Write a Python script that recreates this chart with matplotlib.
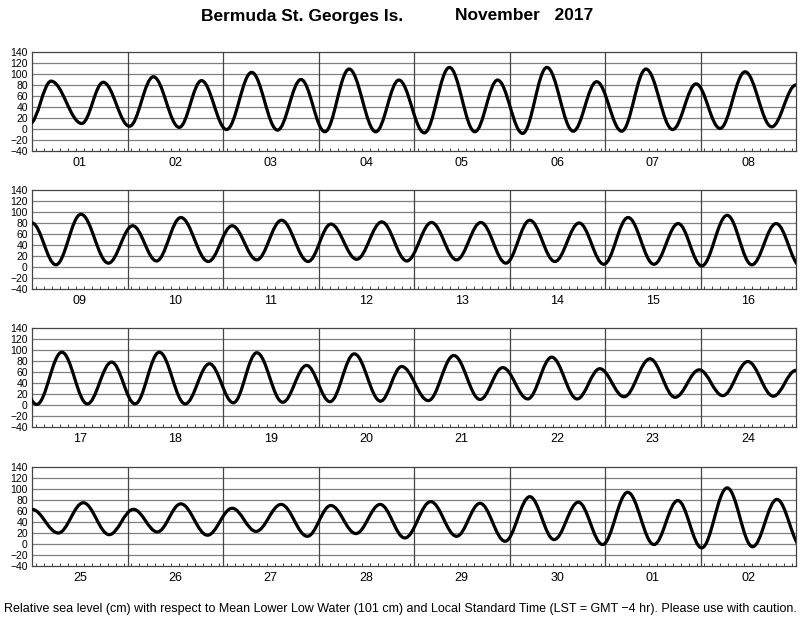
import matplotlib
matplotlib.use("Agg")
import matplotlib.pyplot as plt
from matplotlib.path import Path
from matplotlib.patches import PathPatch

plt.rcParams['font.family'] = ['Liberation Sans', 'DejaVu Sans']

# predicted highs and lows, hours from 1 Nov 00:00 LST, height in cm
wk1_hours = [-0.5, 4.8, 12.5, 17.9, 24.5, 30.5, 37.0, 42.6, 48.9, 55.2, 61.7, 67.6,
             73.6, 79.7, 86.4, 92.2, 98.6, 104.9, 111.3, 117.0, 123.3, 129.4, 136.0,
             141.9, 148.2, 154.3, 161.0, 166.9, 172.9, 179.2, 185.9, 192.0]
wk1_cm = [10, 87, 10, 85, 5, 95, 3, 88, -1, 103, -2, 90,
          -5, 109, -5, 89, -7, 112, -5, 89, -8, 112, -4,
          86, -4, 109, -1, 82, 1, 104, 4, 80]

wk2_hours = [198.0, 204.3, 211.2, 217.3, 223.3, 229.4, 236.3, 242.3, 248.5, 254.7,
             261.4, 267.1, 273.6, 279.9, 286.2, 292.4, 298.7, 304.8, 311.1, 317.1,
             323.4, 329.5, 335.7, 341.8, 348.3, 354.4, 360.3, 366.7, 372.9, 379.0]
wk2_cm = [4, 96, 7, 75, 11, 90, 10, 75, 13, 85,
          10, 78, 14, 82, 11, 81, 13, 81, 7, 85,
          10, 80, 5, 90, 5, 79, 2, 94, 4, 79]

wk3_hours = [385.2, 391.5, 397.9, 404.0, 409.9, 416.0, 422.5, 428.6, 434.6, 440.5,
             447.0, 453.0, 458.9, 465.0, 471.6, 476.9, 483.6, 490.0, 496.6, 502.3,
             508.6, 514.6, 521.0, 526.7, 532.8, 539.3, 545.6, 551.7, 557.6, 563.9,
             570.3, 576.0]
wk3_cm = [1, 96, 2, 78, 2, 96, 2, 75, 4, 95,
          5, 72, 6, 93, 7, 70, 8, 90, 10, 68,
          11, 87, 11, 66, 15, 84, 14, 64, 17, 79,
          16, 63]

wk4_hours = [582.6, 588.9, 595.4, 601.5, 607.5, 613.4, 620.1, 626.3, 632.3, 638.6,
             645.2, 651.1, 657.4, 663.5, 669.7, 676.2, 682.7, 688.6, 694.9, 701.1,
             707.2, 713.3, 719.4, 725.7, 732.3, 738.3, 744.3, 750.7, 757.1, 763.2,
             769.5]
wk4_cm = [20, 75, 17, 63, 22, 73, 16, 65, 23, 72,
          14, 70, 19, 72, 11, 77, 14, 74, 5, 86,
          8, 76, -1, 94, -1, 79, -7, 102, -5, 81,
          -6]

day_labels = ['01', '02', '03', '04', '05', '06', '07', '08',
              '09', '10', '11', '12', '13', '14', '15', '16',
              '17', '18', '19', '20', '21', '22', '23', '24',
              '25', '26', '27', '28', '29', '30', '01', '02']

hours = wk1_hours + wk2_hours + wk3_hours + wk4_hours
cm = wk1_cm + wk2_cm + wk3_cm + wk4_cm
days = [h / 24 for h in hours]

# smooth tide curve: bezier segments with flat tangents at each high/low
k = 0.364
verts = [(days[0], cm[0])]
codes = [Path.MOVETO]
for i in range(1, len(days)):
    dt = days[i] - days[i - 1]
    verts += [(days[i - 1] + k * dt, cm[i - 1]), (days[i] - k * dt, cm[i]), (days[i], cm[i])]
    codes += [Path.CURVE4] * 3
tide = Path(verts, codes)

fig = plt.figure(figsize=(8, 6.18), dpi=100)

fig.text(403 / 800, 1 - 16 / 618, 'Bermuda St. Georges Is.', ha='right', va='center',
         fontsize=12.5, fontweight='bold')
fig.text(455 / 800, 1 - 16 / 618, 'November   2017', ha='left', va='center',
         fontsize=12.5, fontweight='bold')

bottoms = [151, 289, 427, 566]
for p, b in enumerate(bottoms):
    ax = fig.add_axes([32 / 800, 1 - b / 618, 764 / 800, 99 / 618])
    d0 = p * 8
    ax.set_xlim(d0, d0 + 8)
    ax.set_ylim(-40, 140)
    ax.set_yticks(range(-40, 141, 20))
    for y in range(-20, 140, 20):
        ax.axhline(y, color='#808080', lw=0.9, zorder=1)
    for d in range(d0 + 1, d0 + 8):
        ax.axvline(d, color='#444444', lw=0.9, zorder=1)
    ax.add_patch(PathPatch(tide, facecolor='none', edgecolor='black', lw=2.3, zorder=3))

    ax.set_xticks([d0 + i + 0.5 for i in range(8)])
    ax.set_xticklabels(day_labels[d0:d0 + 8], fontsize=9)
    ax.set_xticks([d0 + i + h / 24 for i in range(8) for h in range(1, 24, 2)], minor=True)
    ax.tick_params(axis='x', which='major', length=0, pad=4)
    ax.tick_params(axis='x', which='minor', direction='in', length=2.5, width=0.7, color='#444444')
    ax.tick_params(axis='y', length=0, pad=3, labelsize=7.5)
    for s in ax.spines.values():
        s.set_color('#444444')
        s.set_linewidth(0.9)

fig.text(0.5, 1 - 609 / 618,
         'Relative sea level (cm) with respect to Mean Lower Low Water (101 cm) and '
         'Local Standard Time (LST = GMT \u22124 hr). Please use with caution.',
         ha='center', va='center', fontsize=9)

fig.savefig('out.png', dpi=100)
